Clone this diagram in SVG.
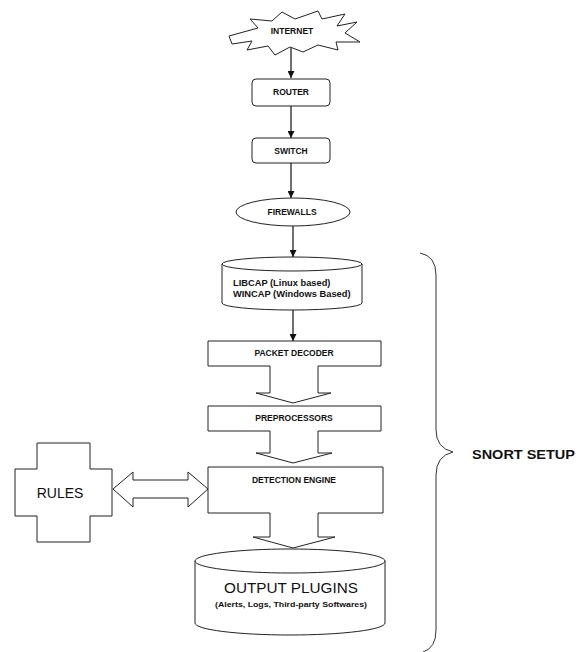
<svg xmlns="http://www.w3.org/2000/svg" width="582" height="652" viewBox="0 0 582 652">
<style>
.s{fill:#fff;stroke:#222;stroke-width:1}
.t{font-family:"Liberation Sans",Arial,sans-serif;font-weight:bold;font-size:8.5px;fill:#111}
.c{stroke:#111;stroke-width:1.2;fill:none}
</style>
<defs>
<marker id="ah" viewBox="0 0 10 10" refX="10" refY="5" markerWidth="7" markerHeight="7" markerUnits="userSpaceOnUse" orient="auto">
<path d="M0,0 L10,5 L0,10 Z" fill="#111"/>
</marker>
</defs>
<rect width="582" height="652" fill="#fff"/>
<g id="connectors">
<line class="c" x1="291" y1="48" x2="291" y2="78" marker-end="url(#ah)"/>
<line class="c" x1="291" y1="106" x2="291" y2="138" marker-end="url(#ah)"/>
<line class="c" x1="291" y1="163" x2="291" y2="198" marker-end="url(#ah)"/>
<line class="c" x1="293" y1="226" x2="293" y2="257" marker-end="url(#ah)"/>
<line class="c" x1="293" y1="310" x2="293" y2="341" marker-end="url(#ah)"/>
<path class="s" d="M113,489 L133,472 L133,480 L188,480 L188,472 L208,489 L188,507 L188,498 L133,498 L133,507 Z"/>
</g>
<g id="internet">
<path class="s" d="M229,36 L258,28 L250,19 L272,21 L282,12 L295,19 L318,11 L322,19 L345,14 L337,26 L357,22 L345,33 L360,42 L336,42 L338,50 L318,45 L303,52 L290,47 L275,55 L268,46 L247,50 L252,41 L232,44 Z"/>
<text class="t" x="292" y="34" text-anchor="middle">INTERNET</text>
</g>
<g id="router">
<rect class="s" x="252" y="79" width="78" height="27" rx="4"/>
<text class="t" x="291" y="95" text-anchor="middle">ROUTER</text>
</g>
<g id="switch">
<rect class="s" x="252" y="138" width="78" height="25" rx="4"/>
<text class="t" x="291" y="154" text-anchor="middle">SWITCH</text>
</g>
<g id="firewalls">
<ellipse class="s" cx="293" cy="212" rx="57" ry="14"/>
<text class="t" x="292" y="215" text-anchor="middle">FIREWALLS</text>
</g>
<g id="libcap">
<path class="s" d="M222,264 L222,303 A70,7 0 0 0 362,303 L362,264"/>
<ellipse class="s" cx="292" cy="264" rx="70" ry="7"/>
<text class="t" x="233" y="286" style="font-size:9.3px">LIBCAP (Linux based)</text>
<text class="t" x="233" y="297" style="font-size:9.3px">WINCAP (Windows Based)</text>
</g>
<g id="packet-decoder">
<path class="s" d="M208,341 L381,341 L381,366 L318,366 L318,393 L331,393 L293,403 L256,393 L270,393 L270,366 L208,366 Z"/>
<text class="t" x="294" y="356" text-anchor="middle">PACKET DECODER</text>
</g>
<g id="preprocessors">
<path class="s" d="M208,406 L381,406 L381,431 L318,431 L318,453 L332,453 L293,463 L256,453 L270,453 L270,431 L208,431 Z"/>
<text class="t" x="294" y="421" text-anchor="middle">PREPROCESSORS</text>
</g>
<g id="detection-engine">
<path class="s" d="M208,467 L383,467 L383,513 L318,513 L318,537 L335,537 L293,548 L253,537 L270,537 L270,513 L208,513 Z"/>
<text class="t" x="294" y="483" text-anchor="middle">DETECTION ENGINE</text>
</g>
<g id="output-plugins">
<path class="s" d="M195,561 L195,623 A95,12 0 0 0 385,623 L385,561"/>
<ellipse class="s" cx="290" cy="561" rx="95" ry="12"/>
<text x="291" y="593" text-anchor="middle" font-family="Liberation Sans, Arial, sans-serif" font-size="15.5" fill="#111" textLength="134" lengthAdjust="spacingAndGlyphs">OUTPUT PLUGINS</text>
<text class="t" x="291" y="607" text-anchor="middle" style="font-size:8px" textLength="152" lengthAdjust="spacingAndGlyphs">(Alerts, Logs, Third-party Softwares)</text>
</g>
<g id="rules">
<path class="s" d="M37,443 L90,443 L90,469 L112,469 L112,516 L90,516 L90,542 L37,542 L37,516 L15,516 L15,469 L37,469 Z"/>
<text x="60" y="498" text-anchor="middle" font-family="Liberation Sans, Arial, sans-serif" font-size="14" fill="#111">RULES</text>
</g>
<g id="snort-setup">
<path d="M420,253 Q436,256 436,275 L436,430 Q436,448 453,452 Q436,456 436,475 L436,630 Q436,648 423,652" fill="none" stroke="#333" stroke-width="1"/>
<text x="472" y="459" font-family="Liberation Sans, Arial, sans-serif" font-weight="bold" font-size="13" fill="#111" textLength="103" lengthAdjust="spacingAndGlyphs">SNORT SETUP</text>
</g>
</svg>
